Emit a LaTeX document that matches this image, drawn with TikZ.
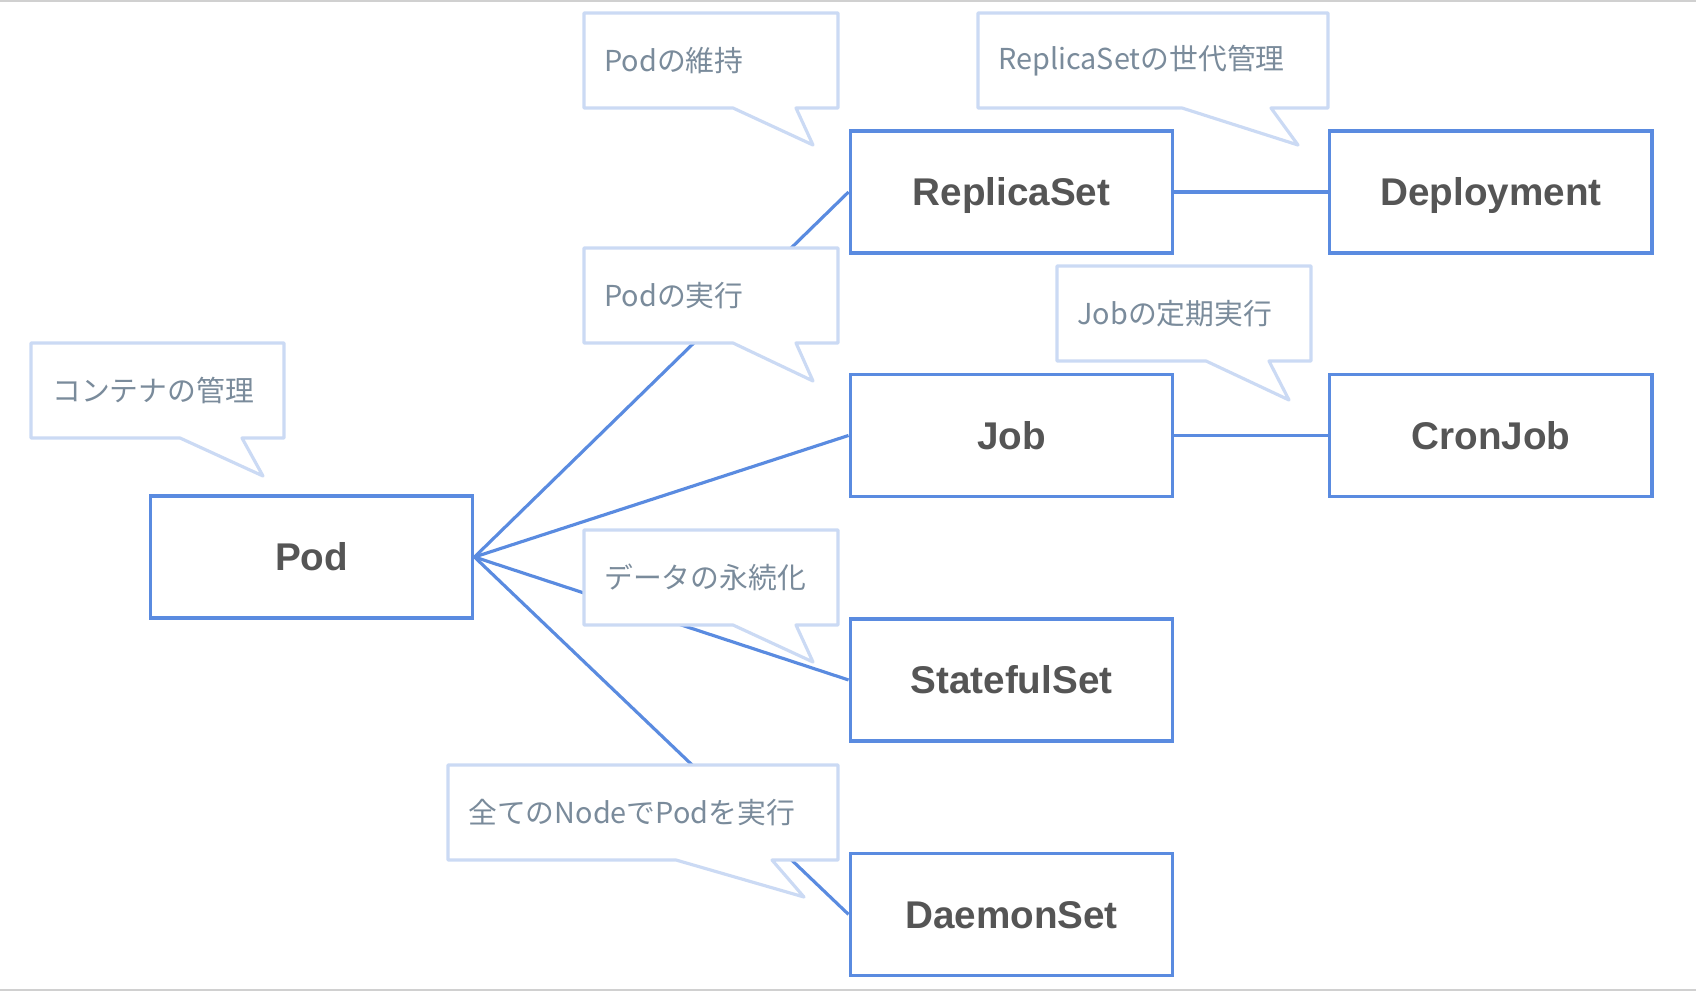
\documentclass[tikz,border=0pt]{standalone}
\usepackage{fontspec}
\usetikzlibrary{positioning}
\newfontfamily\jpfont{Noto Sans CJK JP}
\newfontfamily\boxfont{Liberation Sans}
\definecolor{boxblue}{HTML}{5A8BE0}
\definecolor{tipblue}{HTML}{CBDAF4}
\definecolor{tiptext}{HTML}{7A8B9B}
\definecolor{boxtext}{HTML}{555555}
\definecolor{rulegray}{HTML}{D0D0D0}

\begin{document}
\begin{tikzpicture}[x=0.02cm, y=-0.02cm,
  kind/.style = {draw=boxblue, line width=2pt, minimum width=6.45cm, minimum height=2.44cm,
    inner sep=0pt, text height=15.8pt, text depth=0pt, text=boxtext,
    font=\boxfont\bfseries\fontsize{22}{26}\selectfont},
  link/.style = {draw=boxblue, line width=1.8pt},
  bubble/.style = {draw=tipblue, fill=white, line width=1.8pt, line join=round},
  note/.style = {anchor=west, inner sep=0pt, text=tiptext, font=\jpfont\fontsize{16.4}{20}\selectfont}]
  \useasboundingbox (0,0) rectangle (1696,992);
  \draw[rulegray, line width=1pt] (0,1) -- (1696,1);
  \draw[rulegray, line width=1pt] (0,990) -- (1696,990);

  % workloads
  \node[kind] (pod) at (311.5,557) {Pod};
  \node[kind] (rs) at (1011.5,192) {ReplicaSet};
  \node[kind] (deploy) [right=3.07cm of rs] {Deployment};
  \node[kind] (job) [below=2.36cm of rs] {Job};
  \node[kind] (cron) [right=3.07cm of job] {CronJob};
  \node[kind] (sts) [below=2.38cm of job] {StatefulSet};
  \node[kind] (ds) [below=2.18cm of sts] {DaemonSet};

  \draw[link] (pod.east) -- (rs.west);
  \draw[link] (pod.east) -- (job.west);
  \draw[link] (pod.east) -- (sts.west);
  \draw[link] (pod.east) -- (ds.west);
  \draw[link] (rs) -- (deploy);
  \draw[link] (job) -- (cron);

  % speech bubbles
  \draw[bubble] (31,343) -- (284,343) -- (284,438) -- (242,438) -- (263,476) -- (180,438) -- (31,438) -- cycle;
  \node[note] (podnote) at (52,390.5) {コンテナの管理};
  \draw[bubble] (584,13) -- (838,13) -- (838,108) -- (796,108) -- (813,145) -- (733,108) -- (584,108) -- cycle;
  \node[note] (rsnote) at (604,60.5) {Podの維持};
  \draw[bubble] (978,13) -- (1328,13) -- (1328,108) -- (1271,108) -- (1298,145) -- (1182,108) -- (978,108) -- cycle;
  \node[note] (deploynote) at (998,60.5) {ReplicaSetの世代管理};
  \draw[bubble] (584,248) -- (838,248) -- (838,343) -- (796,343) -- (813,381) -- (733,343) -- (584,343) -- cycle;
  \node[note] (jobnote) at (604,295.5) {Podの実行};
  \draw[bubble] (1057,266) -- (1311,266) -- (1311,361) -- (1269,361) -- (1289,400) -- (1206,361) -- (1057,361) -- cycle;
  \node[note] (cronnote) at (1077,313.5) {Jobの定期実行};
  \draw[bubble] (584,530) -- (838,530) -- (838,625) -- (796,625) -- (813,662) -- (733,625) -- (584,625) -- cycle;
  \node[note] (stsnote) at (604,577.5) {データの永続化};
  \draw[bubble] (448,765) -- (838,765) -- (838,860) -- (772,860) -- (804,897) -- (676,860) -- (448,860) -- cycle;
  \node[note] (dsnote) at (468,812.5) {全てのNodeでPodを実行};
\end{tikzpicture}
\end{document}
